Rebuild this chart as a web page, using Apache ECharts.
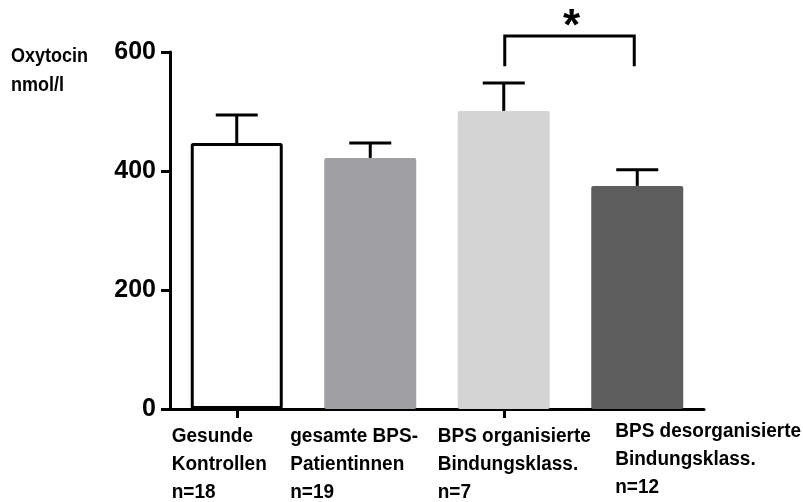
<!DOCTYPE html>
<html>
<head>
<meta charset="utf-8">
<script src="https://cdn.jsdelivr.net/npm/echarts@6/dist/echarts.min.js"></script>
<style>
html,body{margin:0;padding:0;background:#fff;}
#main{width:803px;height:502px;}
</style>
</head>
<body>
<div id="main"></div>
<script>
// ---- data ----
var categories = ['Gesunde Kontrollen', 'gesamte BPS-Patientinnen', 'BPS organisierte Bindungsklass.', 'BPS desorganisierte Bindungsklass.'];
var labelLines = [
  ['Gesunde', 'Kontrollen', 'n=18'],
  ['gesamte BPS-', 'Patientinnen', 'n=19'],
  ['BPS organisierte', 'Bindungsklass.', 'n=7'],
  ['BPS desorganisierte', 'Bindungsklass.', 'n=12']
];
var means = [447, 422, 501, 375];
var errorUpper = [494, 447, 548, 402];
var yTicks = [0, 200, 400, 600];
var significance = [[2, 3, 627, 576]]; // [fromIdx, toIdx, bracketTop, bracketEnd]
var sigLabel = '*';

// ---- styles ----
var barColors = ['#ffffff', '#a0a0a4', '#d4d4d4', '#5d5d5d'];
var barBorders = [['#000000', 3], [null, 0], [null, 0], [null, 0]];
var labelOffsetX = [-65, -80, -66, -22];
var labelOffsetY = [0, 0, 0, -5];
var FONT = '"Liberation Sans", Arial, sans-serif';

var chart = echarts.init(document.getElementById('main'), null, {renderer: 'canvas'});

var barData = means.map(function (v, i) {
  var it = {value: v, itemStyle: {color: barColors[i], borderRadius: 2}};
  if (barBorders[i][0]) { it.itemStyle.borderColor = barBorders[i][0]; it.itemStyle.borderWidth = barBorders[i][1]; it.itemStyle.borderRadius = 1; }
  return it;
});

var option = {
  animation: false,
  backgroundColor: '#ffffff',
  grid: {left: 170, right: 99, top: 52, bottom: 93, containLabel: false},
  xAxis: {
    type: 'category',
    data: categories,
    boundaryGap: true,
    axisLine: {show: true, lineStyle: {color: '#000', width: 3}},
    axisTick: {show: true, alignWithLabel: true, length: 9, lineStyle: {color: '#000', width: 3}},
    axisLabel: {show: false},
    splitLine: {show: false}
  },
  yAxis: {
    type: 'value',
    min: yTicks[0],
    max: yTicks[yTicks.length - 1],
    interval: yTicks[1] - yTicks[0],
    axisLine: {show: true, lineStyle: {color: '#000', width: 3}},
    axisTick: {show: true, length: 9, lineStyle: {color: '#000', width: 3}},
    axisLabel: {color: '#000', fontFamily: FONT, fontWeight: 'bold', fontSize: 25, margin: 14},
    splitLine: {show: false}
  },
  series: [
    {
      type: 'bar',
      data: barData,
      barWidth: 92,
      z: 2
    },
    {
      type: 'custom',
      z: 3,
      clip: false,
      data: means.map(function (m, i) { return [i, m, errorUpper[i]]; }),
      renderItem: function (params, api) {
        var p0 = api.coord([api.value(0), api.value(1)]);
        var p1 = api.coord([api.value(0), api.value(2)]);
        var hw = 21;
        return {
          type: 'group',
          children: [
            {type: 'line', shape: {x1: p0[0], y1: p0[1], x2: p1[0], y2: p1[1]}, style: {stroke: '#000', lineWidth: 3}},
            {type: 'line', shape: {x1: p1[0] - hw, y1: p1[1], x2: p1[0] + hw, y2: p1[1]}, style: {stroke: '#000', lineWidth: 3}}
          ]
        };
      }
    },
    {
      type: 'custom',
      z: 3,
      clip: false,
      data: significance,
      renderItem: function (params, api) {
        var a = api.coord([api.value(0), api.value(2)]);
        var b = api.coord([api.value(1), api.value(2)]);
        var e = api.coord([api.value(1), api.value(3)]);
        var ax = a[0] + 1, bx = b[0] - 3;
        return {
          type: 'group',
          children: [
            {type: 'polyline', shape: {points: [[ax, e[1]], [ax, a[1]], [bx, a[1]], [bx, e[1]]]}, style: {stroke: '#000', lineWidth: 3, fill: null}},
            {type: 'text', style: {text: sigLabel, x: (ax + bx) / 2 + 2, y: a[1] + 14, align: 'center', verticalAlign: 'bottom', font: 'bold 44px ' + FONT, fill: '#000'}}
          ]
        };
      }
    }
  ]
};
chart.setOption(option);

// axis name & category labels as text
var graphics = [
  {type: 'text', x: 11, y: 42, scaleY: 1.12, originX: 0, originY: 0, style: {text: 'Oxytocin\nnmol/l', font: 'bold 18px ' + FONT, fill: '#000', lineHeight: 26}}
];
labelLines.forEach(function (lines, i) {
  var cx = chart.convertToPixel({xAxisIndex: 0}, i);
  graphics.push({
    type: 'text',
    x: cx + labelOffsetX[i],
    y: 422 + labelOffsetY[i],
    scaleY: 1.1,
    originX: 0, originY: 0,
    style: {text: lines.join('\n'), font: 'bold 19px ' + FONT, fill: '#000', lineHeight: 25.5, align: 'left', verticalAlign: 'top'}
  });
});
chart.setOption({graphic: graphics});
</script>
</body>
</html>
